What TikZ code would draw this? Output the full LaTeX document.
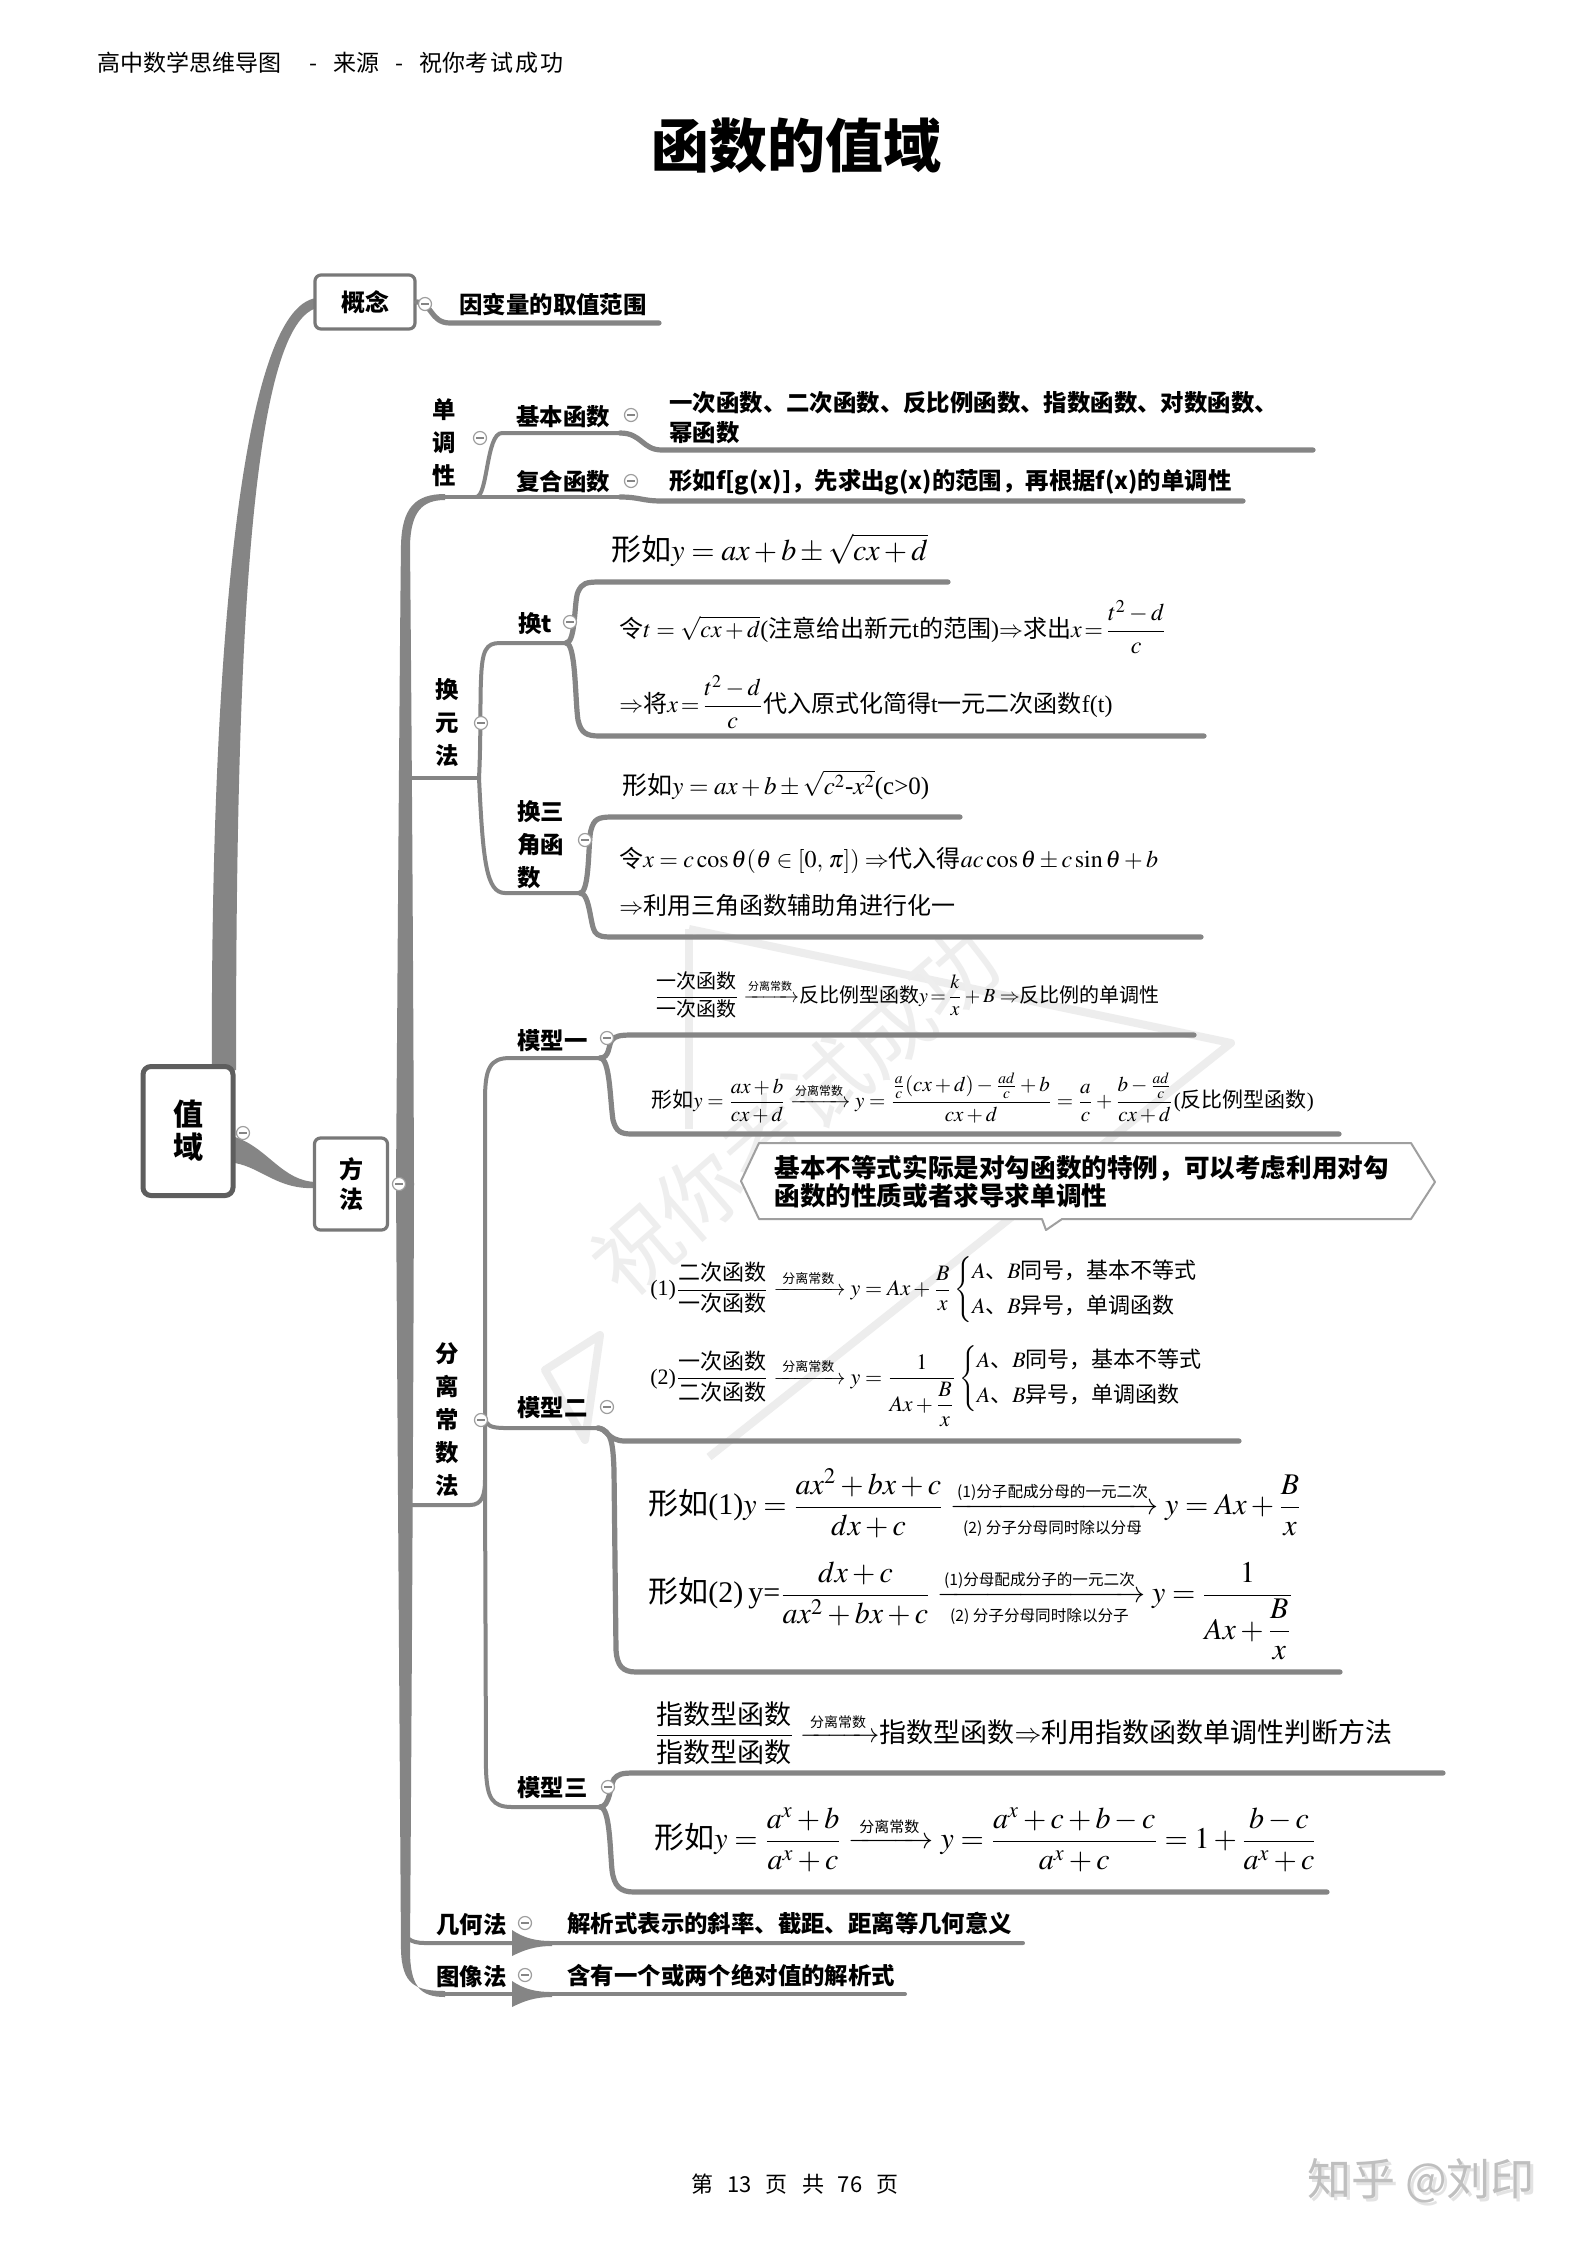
\documentclass[tikz,border=0pt]{standalone}
\usepackage{amsmath}
\usepackage{mathptmx}
\usepackage{fontspec}
\setmainfont{Liberation Serif}
\newfontfamily\hei{Noto Sans CJK SC}
\definecolor{lnk}{HTML}{858585}
\definecolor{boxc}{HTML}{5E5E5E}
\newcommand\arrlab[2]{\text{\hei\fontsize{#1}{#1}\selectfont #2}}
\tikzset{
  lbl/.style={font=\hei\bfseries\fontsize{11.7}{14}\selectfont, inner sep=0, anchor=west},
  vlbl/.style={font=\hei\bfseries\fontsize{11.7}{16.5}\selectfont, inner sep=0, align=center},
  txt/.style={inner sep=0, anchor=west},
  conn/.style={draw=lnk, line width=2pt, line cap=round},
  bconn/.style={draw=lnk, line width=2.6pt, line cap=round},
  fold/.style={circle, draw=lnk!80, fill=white, line width=0.6pt, minimum size=6.5pt, inner sep=0,
    path picture={\draw[lnk, line width=0.8pt] ([xshift=-1.8pt]path picture bounding box.center) -- ([xshift=1.8pt]path picture bounding box.center);}},
  rootbox/.style={draw=boxc, line width=2.5pt, rounded corners=4pt, fill=white, inner sep=0,
    minimum width=45pt, minimum height=64.5pt, align=center, font=\hei\bfseries\fontsize{15}{16.5}\selectfont},
  topbox/.style={draw=lnk!90!black, line width=1.6pt, rounded corners=3pt, fill=white, inner sep=0, align=center},
  wm/.style={text=gray!13, inner sep=0}
}
\begin{document}
\begin{tikzpicture}[x=0.5pt,y=-0.5pt]
\fill[white] (0,0) rectangle (1587,2245);
\useasboundingbox (0,0) rectangle (1587,2245);

% ---------- watermark ----------
\draw[gray!14, line width=4pt, line join=round] (689,929) -- (1231,1043) -- (709,1457);
\draw[gray!14, line width=4pt] (689,929) -- (689,1129);
\draw[gray!14, line width=4pt, line join=round] (545,1370) -- (600,1335) -- (585,1440) -- cycle;
\node[wm, rotate=41, font=\hei\fontsize{42}{42}\selectfont] (wmark) at (795,1112) {祝你考试成功};

% ---------- header / title / footer ----------
\node[txt, font=\hei\fontsize{11.5}{13}\selectfont] (hdr) at (97,63) {高中数学思维导图\hspace{14pt}-\hspace{8pt}来源\hspace{8pt}-\hspace{8pt}祝你考\hspace{1pt}试\hspace{1pt}成\hspace{1pt}功};
\node[inner sep=0, font=\hei\bfseries\fontsize{29}{32}\selectfont] (title) at (796,146) {函数的值域};
\node[inner sep=0, font=\hei\fontsize{11}{12}\selectfont] (page) at (795,2184) {第\hspace{7pt}13\hspace{7pt}页\hspace{7pt}共\hspace{7pt}76\hspace{7pt}页};
\node[inner sep=0, font=\hei\fontsize{22}{24}\selectfont, text=gray!22] (zhs) at (1424,2184) {知乎 @刘印};
\node[inner sep=0, font=\hei\fontsize{22}{24}\selectfont, text=gray!50] (zh) at (1421,2181) {知乎 @刘印};

% ---------- main connectors ----------
% root -> 概念
\fill[lnk] (212,1070) .. controls (210,700) and (236,306) .. (317,298) -- (317,308) .. controls (246,326) and (236,700) .. (236,1070) -- cycle;
% root -> 方法
\fill[lnk] (235,1137) .. controls (268,1148) and (282,1181) .. (316,1182) -- (316,1188) .. controls (278,1190) and (262,1168) .. (235,1163) -- cycle;
% spine
\fill[lnk] (396,1184) .. controls (398,900) and (400,620) .. (401,545) .. controls (402,508) and (415,494) .. (445,494) -- (445,500) .. controls (422,500) and (411,512) .. (410,545) .. controls (411,650) and (413,900) .. (414,1184) -- cycle;
\fill[lnk] (396,1184) .. controls (398,1500) and (400,1800) .. (401,1950) .. controls (402,1984) and (415,1991) .. (445,1991) -- (445,1997) .. controls (420,1997) and (410,1986) .. (410,1950) .. controls (411,1800) and (413,1500) .. (414,1184) -- cycle;

% ---------- boxes ----------
\node[rootbox] (root) at (188,1131) {值\\域};
\node[topbox, minimum width=50pt, minimum height=27pt, font=\hei\bfseries\fontsize{12}{14}\selectfont] (gn) at (365,302) {概念};
\node[topbox, minimum width=36.5pt, minimum height=46pt, font=\hei\bfseries\fontsize{12}{15}\selectfont] (ff) at (351,1184) {方\\法};

% 概念 -> 因变量
\draw[bconn] (gn.east) .. controls (432,302) and (430,323) .. (450,323) -- (659,323);
\node[lbl] (yb) at (459,304) {因变量的取值范围};

% ---------- 单调性 ----------
\node[vlbl] (ddx) at (444,443) {单\\调\\性};
\draw[conn] (440,497) -- (622,497);
\draw[bconn] (620,497) .. controls (640,497) and (642,501) .. (662,501) -- (1243,501);
\draw[conn] (476,497) .. controls (488,497) and (486,433) .. (502,433) -- (622,433);
\draw[bconn] (620,433) .. controls (642,433) and (642,450) .. (662,450) -- (1313,450);
\node[lbl] (jbhs) at (516,417) {基本函数};
\node[lbl] (fhhs) at (516,482) {复合函数};
\node[lbl, font=\hei\bfseries\fontsize{11.7}{15}\selectfont, align=left] (jbhst) at (669,418) {一次函数、二次函数、反比例函数、指数函数、对数函数、\\幂函数};
\node[lbl] (fhhst) at (669,482) {形如f[g(x)]，先求出g(x)的范围，再根据f(x)的单调性};

% ---------- 换元法 ----------
\node[vlbl] (hyf) at (447,723) {换\\元\\法};
\draw[conn] (405,778) -- (479,778);
\draw[conn] (479,778) .. controls (481,740) and (480,700) .. (481,680) .. controls (482,650) and (486,643) .. (500,643) -- (566,643);
\draw[conn] (479,778) .. controls (483,860) and (486,893) .. (505,893) -- (580,893);
\node[lbl] (hut) at (518,624) {换t};
\node[lbl, font=\hei\bfseries\fontsize{11.7}{16.5}\selectfont, align=left] (hsj) at (517,845) {换三\\角函\\数};
% 换t brace
\draw[bconn] (566,643) .. controls (576,643) and (574,600) .. (578,592) .. controls (582,583) and (586,582) .. (600,582) -- (948,582);
\draw[bconn] (566,643) .. controls (576,643) and (575,700) .. (578,720) .. controls (581,733) and (586,736) .. (600,736) -- (1204,736);
% 换三角 brace
\draw[bconn] (580,893) .. controls (590,893) and (588,840) .. (591,830) .. controls (594,819) and (598,817) .. (612,817) -- (960,817);
\draw[bconn] (580,893) .. controls (590,893) and (590,925) .. (595,932) .. controls (598,936) and (602,937) .. (612,937) -- (1201,937);

\node[txt, font=\fontsize{15}{18}\selectfont] (f1) at (611,550) {{\hei 形如}$y=ax+b\pm\sqrt{cx+d}$};
\node[txt, font=\fontsize{12}{14}\selectfont] (f2) at (619,627) {{\hei 令}$t=\sqrt{cx+d}$({\hei 注意给出新元}t{\hei 的范围})$\Rightarrow${\hei 求出}$x\!=\!\dfrac{t^2-d}{c}$};
\node[txt, font=\fontsize{12}{14}\selectfont] (f3) at (619,702) {$\Rightarrow${\hei 将}$x\!=\!\dfrac{t^2-d}{c}${\hei 代入原式化简得}t{\hei 一元二次函数}f(t)};
\node[txt, font=\fontsize{12.5}{14}\selectfont] (g1) at (622,785) {{\hei 形如}$y=ax+b\pm\sqrt{c^2\text{-}x^2}$(c>0)};
\node[txt, font=\fontsize{12}{14}\selectfont] (g2) at (619,860) {{\hei 令}$x=c\cos\theta(\theta\in[0,\,\pi])\Rightarrow${\hei 代入得}$ac\cos\theta\pm c\sin\theta+b$};
\node[txt, font=\fontsize{12}{14}\selectfont] (g3) at (619,905) {$\Rightarrow${\hei 利用三角函数辅助角进行化一}};

% ---------- 分离常数法 ----------
\node[vlbl] (flcs) at (447,1420) {分\\离\\常\\数\\法};
\draw[conn] (405,1505) -- (470,1505) .. controls (482,1505) and (485,1495) .. (485,1480) -- (485,1100) .. controls (485,1068) and (490,1058) .. (510,1058) -- (600,1058);
\draw[conn] (485,1418) .. controls (486,1425) and (490,1428) .. (505,1428) -- (598,1428);
\draw[conn] (485,1480) -- (486,1770) .. controls (487,1798) and (492,1807) .. (512,1807) -- (600,1807);
\node[lbl] (mx1) at (517,1041) {模型一};
\node[lbl] (mx2) at (517,1408) {模型二};
\node[lbl] (mx3) at (517,1788) {模型三};
% 模型一 brace
\draw[bconn] (600,1058) .. controls (610,1058) and (608,1045) .. (612,1040) .. controls (615,1036) and (620,1035) .. (632,1035) -- (1194,1035);
\draw[bconn] (600,1058) .. controls (610,1058) and (610,1100) .. (613,1120) .. controls (616,1131) and (620,1134) .. (632,1134) -- (1339,1134);
% 模型二 brace
\draw[bconn] (598,1428) .. controls (606,1428) and (608,1441) .. (625,1441) -- (1239,1441);
\draw[bconn] (598,1428) .. controls (612,1430) and (613,1445) .. (614,1470) -- (616,1650) .. controls (617,1665) and (622,1672) .. (636,1672) -- (1340,1672);
% 模型三 brace
\draw[bconn] (600,1807) .. controls (610,1807) and (610,1785) .. (614,1779) .. controls (618,1774) and (622,1773) .. (634,1773) -- (1443,1773);
\draw[bconn] (600,1807) .. controls (610,1807) and (610,1850) .. (612,1870) .. controls (614,1886) and (620,1892) .. (634,1892) -- (1327,1892);

\node[txt, font=\fontsize{10}{12}\selectfont] (h1) at (654,995) {$\dfrac{\text{\hei 一次函数}}{\text{\hei 一次函数}}\xrightarrow{\arrlab{5.5}{分离常数}}${\hei 反比例型函数}$y\!=\!\dfrac{k}{x}+B\Rightarrow${\hei 反比例的单调性}};
\node[txt, font=\fontsize{10.5}{12}\selectfont] (h2) at (651,1098) {{\hei 形如}$y=\dfrac{ax+b}{cx+d}\xrightarrow{\arrlab{6}{分离常数}}y=\dfrac{\frac{a}{c}(cx+d)-\frac{ad}{c}+b}{cx+d}=\dfrac{a}{c}+\dfrac{b-\frac{ad}{c}}{cx+d}$({\hei 反比例型函数})};

% callout
\draw[draw=gray!75, line width=1pt, fill=white, line join=round] (741,1181) -- (759,1143) -- (1411,1143) -- (1435,1182) -- (1411,1219) -- (1062,1219) -- (1046,1230) -- (1042,1219) -- (759,1219) -- cycle;
\node[txt, align=left, font=\hei\bfseries\fontsize{12.8}{14}\selectfont] (note) at (774,1182) {基本不等式实际是对勾函数的特例，可以考虑利用对勾\\函数的性质或者求导求单调性};

\node[txt, font=\fontsize{11}{13}\selectfont] (i1) at (650,1290) {(1)$\dfrac{\text{\hei 二次函数}}{\text{\hei 一次函数}}\xrightarrow{\arrlab{6.5}{\;分离常数\;}}y=Ax+\dfrac{B}{x}\begin{cases}A\text{\hei 、}B\text{\hei 同号，基本不等式}\\[2pt]A\text{\hei 、}B\text{\hei 异号，单调函数}\end{cases}$};
\node[txt, font=\fontsize{11}{13}\selectfont] (i2) at (650,1386) {(2)$\dfrac{\text{\hei 一次函数}}{\text{\hei 二次函数}}\xrightarrow{\arrlab{6.5}{\;分离常数\;}}y=\dfrac{1}{Ax+\dfrac{B}{x}}\begin{cases}A\text{\hei 、}B\text{\hei 同号，基本不等式}\\[2pt]A\text{\hei 、}B\text{\hei 异号，单调函数}\end{cases}$};

\node[txt, font=\fontsize{15}{18}\selectfont] (j1) at (648,1504) {{\hei 形如}(1)$y=\dfrac{ax^2+bx+c}{dx+c}\xrightarrow[\arrlab{7.8}{(2) 分子分母同时除以分母}]{\arrlab{7.8}{(1)分子配成分母的一元二次}}y=Ax+\dfrac{B}{x}$};
\node[txt, font=\fontsize{15}{18}\selectfont] (j2) at (648,1611) {{\hei 形如}(2)\,y=$\dfrac{dx+c}{ax^2+bx+c}\xrightarrow[\arrlab{7.8}{(2) 分子分母同时除以分子}]{\arrlab{7.8}{(1)分母配成分子的一元二次}}y=\dfrac{1}{Ax+\dfrac{B}{x}}$};

\node[txt, font=\fontsize{13.5}{16}\selectfont] (k1) at (654,1733) {$\dfrac{\text{\hei 指数型函数}}{\text{\hei 指数型函数}}\xrightarrow{\arrlab{7}{\;分离常数\;}}${\hei 指数型函数}$\Rightarrow${\hei 利用指数函数单调性判断方法}};
\node[txt, font=\fontsize{15}{18}\selectfont] (k2) at (654,1840) {{\hei 形如}$y=\dfrac{a^x+b}{a^x+c}\xrightarrow{\arrlab{7.5}{\;分离常数\;}}y=\dfrac{a^x+c+b-c}{a^x+c}=1+\dfrac{b-c}{a^x+c}$};

% ---------- 几何法 / 图像法 ----------
\draw[conn] (403,1925) .. controls (404,1938) and (410,1943) .. (425,1943) -- (1023,1943);
\draw[conn] (445,1994) -- (905,1994);
\fill[lnk] (512,1930) .. controls (524,1938) and (535,1941) .. (552,1941) -- (552,1946) .. controls (535,1946) and (524,1950) .. (512,1956) -- cycle;
\fill[lnk] (512,1981) .. controls (524,1989) and (535,1992) .. (552,1992) -- (552,1997) .. controls (535,1997) and (524,2001) .. (512,2007) -- cycle;
\node[lbl] (jhf) at (436,1925) {几何法};
\node[lbl] (txf) at (436,1977) {图像法};
\node[lbl] (jhft) at (567,1923) {解析式表示的斜率、截距、距离等几何意义};
\node[lbl] (txft) at (567,1976) {含有一个或两个绝对值的解析式};

% ---------- fold icons ----------
\node[fold] (o1) at (243,1133) {};
\node[fold] (o2) at (425,304) {};
\node[fold] (o3) at (399,1184) {};
\node[fold] (o4) at (480,438) {};
\node[fold] (o5) at (631,415) {};
\node[fold] (o6) at (631,481) {};
\node[fold] (o7) at (481,723) {};
\node[fold] (o8) at (570,622) {};
\node[fold] (o9) at (585,840) {};
\node[fold] (o10) at (481,1420) {};
\node[fold] (o11) at (607,1038) {};
\node[fold] (o12) at (607,1407) {};
\node[fold] (o13) at (608,1787) {};
\node[fold] (o14) at (525,1923) {};
\node[fold] (o15) at (525,1975) {};
\end{tikzpicture}
\end{document}
